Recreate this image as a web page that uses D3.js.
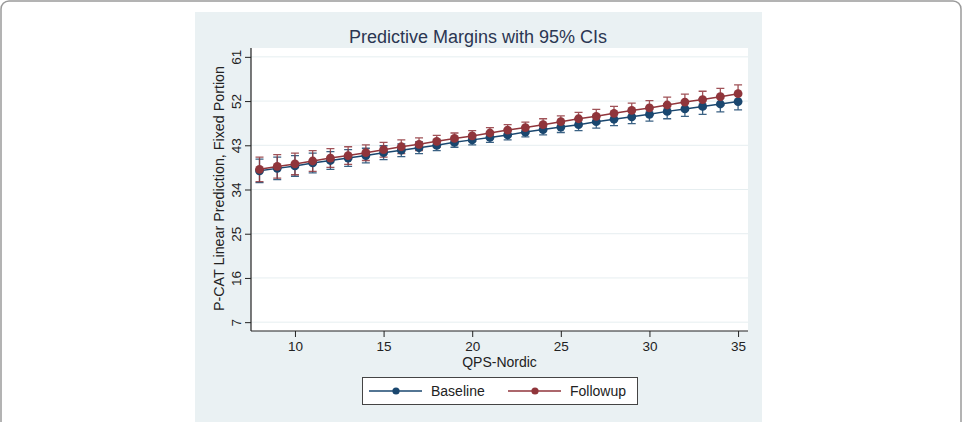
<!DOCTYPE html>
<html>
<head>
<meta charset="utf-8">
<script src="https://cdn.jsdelivr.net/npm/d3@7"></script>
<style>
  html, body { margin: 0; padding: 0; background: #fff; }
  svg { display: block; font-family: "Liberation Sans", Arial, sans-serif; }
</style>
</head>
<body>
<svg id="chart" width="963" height="422"></svg>
<script>
// QPS-Nordic score values
const qps = [8, 9, 10, 11, 12, 13, 14, 15, 16, 17, 18, 19, 20, 21,
             22, 23, 24, 25, 26, 27, 28, 29, 30, 31, 32, 33, 34, 35];

const baseline = [37.8, 38.3, 38.8, 39.4, 39.9, 40.4, 40.9, 41.5, 42.0, 42.5,
                  43.0, 43.6, 44.1, 44.6, 45.1, 45.7, 46.2, 46.7, 47.2, 47.8,
                  48.3, 48.8, 49.3, 49.9, 50.4, 50.9, 51.4, 51.9];
const followup = [38.1, 38.7, 39.2, 39.8, 40.4, 40.9, 41.5, 42.1, 42.7, 43.2,
                  43.8, 44.4, 44.9, 45.5, 46.1, 46.6, 47.2, 47.8, 48.4, 48.9,
                  49.5, 50.1, 50.6, 51.2, 51.8, 52.3, 52.9, 53.5];

// 95% CI half widths
const baselineCI = [2.4, 2.3, 2.1, 2.0, 1.8, 1.7, 1.5, 1.4, 1.3, 1.2,
                    1.1, 1.0, 1.0, 1.0, 1.0, 1.0, 1.1, 1.1, 1.2, 1.3,
                    1.3, 1.4, 1.4, 1.5, 1.5, 1.6, 1.6, 1.7];
const followupCI = [2.5, 2.4, 2.2, 2.1, 1.9, 1.8, 1.6, 1.5, 1.4, 1.3,
                    1.2, 1.1, 1.1, 1.1, 1.1, 1.1, 1.2, 1.2, 1.3, 1.4,
                    1.4, 1.5, 1.5, 1.6, 1.6, 1.7, 1.7, 1.8];

const yTicks = [7, 16, 25, 34, 43, 52, 61];
const xTicks = [10, 15, 20, 25, 30, 35];

const series = [
  {name: 'Baseline', values: baseline, ci: baselineCI, color: '#1a476f'},
  {name: 'Followup', values: followup, ci: followupCI, color: '#90353b'}
];

const svg = d3.select('#chart');

// outer card frame
svg.append('rect')
  .attr('x', 1).attr('y', 1)
  .attr('width', 960).attr('height', 460)
  .attr('rx', 8)
  .attr('fill', '#fff')
  .attr('stroke', '#9a9a9a')
  .attr('stroke-width', 1.5);

// graph region
svg.append('rect')
  .attr('x', 195).attr('y', 12)
  .attr('width', 567).attr('height', 420)
  .attr('fill', '#eaf1f3');

const margin = {left: 251, top: 48, right: 748, bottom: 331};

const x = d3.scaleLinear().domain([7.52, 35.56]).range([margin.left, margin.right]);
const y = d3.scaleLinear().domain([5.2, 62.8]).range([margin.bottom, margin.top]);

// plot region
svg.append('rect')
  .attr('x', margin.left).attr('y', margin.top)
  .attr('width', margin.right - margin.left)
  .attr('height', margin.bottom - margin.top)
  .attr('fill', '#fff');

// gridlines
svg.append('g')
  .selectAll('line')
  .data(yTicks)
  .enter().append('line')
  .attr('x1', margin.left).attr('x2', margin.right)
  .attr('y1', d => y(d)).attr('y2', d => y(d))
  .attr('stroke', '#e6eef0')
  .attr('stroke-width', 1);

// title
svg.append('text')
  .attr('x', 478).attr('y', 43)
  .attr('text-anchor', 'middle')
  .attr('font-size', 18)
  .attr('fill', '#2b3652')
  .text('Predictive Margins with 95% CIs');

// y axis
const yAxis = svg.append('g')
  .attr('transform', `translate(${margin.left},0)`)
  .call(d3.axisLeft(y).tickValues(yTicks).tickSize(6).tickPadding(4));
yAxis.select('.domain').attr('stroke', '#222').attr('stroke-width', 1.2)
  .attr('d', `M0,${margin.top}V${margin.bottom}`);
yAxis.selectAll('.tick line').attr('stroke', '#222');
yAxis.selectAll('.tick text')
  .attr('font-size', 13.5)
  .attr('fill', '#222')
  .attr('text-anchor', 'middle')
  .attr('x', 0).attr('dy', 0)
  .attr('transform', 'translate(-10,0) rotate(-90)');

svg.append('text')
  .attr('transform', `translate(224,${(margin.top + margin.bottom) / 2 - 1}) rotate(-90)`)
  .attr('text-anchor', 'middle')
  .attr('font-size', 14.3)
  .attr('fill', '#222')
  .text('P-CAT Linear Prediction, Fixed Portion');

// x axis
const xAxis = svg.append('g')
  .attr('transform', `translate(0,${margin.bottom})`)
  .call(d3.axisBottom(x).tickValues(xTicks).tickSize(6).tickPadding(4));
xAxis.select('.domain').attr('stroke', '#222').attr('stroke-width', 1.2)
  .attr('d', `M${margin.left},0H${margin.right}`);
xAxis.selectAll('.tick line').attr('stroke', '#222');
xAxis.selectAll('.tick text')
  .attr('font-size', 13.5)
  .attr('fill', '#222');

svg.append('text')
  .attr('x', (margin.left + margin.right) / 2)
  .attr('y', 367)
  .attr('text-anchor', 'middle')
  .attr('font-size', 14)
  .attr('fill', '#222')
  .text('QPS-Nordic');

// confidence intervals
series.forEach(s => {
  const g = svg.append('g')
    .attr('stroke', s.color)
    .attr('stroke-width', 1.3)
    .attr('opacity', 0.85);
  const ci = qps.map((q, i) => ({q, lo: s.values[i] - s.ci[i], hi: s.values[i] + s.ci[i]}));
  g.selectAll('.ci')
    .data(ci)
    .enter().append('path')
    .attr('fill', 'none')
    .attr('d', d => {
      const cx = x(d.q);
      return `M${cx},${y(d.lo)}V${y(d.hi)}` +
        `M${cx - 4},${y(d.lo)}H${cx + 4}` +
        `M${cx - 4},${y(d.hi)}H${cx + 4}`;
    });
});

// lines and markers
const line = d3.line().x(d => x(d.q)).y(d => y(d.v));
series.forEach(s => {
  const pts = qps.map((q, i) => ({q, v: s.values[i]}));
  svg.append('path')
    .datum(pts)
    .attr('fill', 'none')
    .attr('stroke', s.color)
    .attr('stroke-width', 1.5)
    .attr('d', line);
  svg.append('g')
    .selectAll('circle')
    .data(pts)
    .enter().append('circle')
    .attr('cx', d => x(d.q))
    .attr('cy', d => y(d.v))
    .attr('r', 4.4)
    .attr('fill', s.color);
});

// legend
const legend = svg.append('g');
legend.append('rect')
  .attr('x', 362.5).attr('y', 377.5)
  .attr('width', 275).attr('height', 27)
  .attr('fill', '#fff')
  .attr('stroke', '#444')
  .attr('stroke-width', 1);

const legendX = d3.scalePoint().domain(series.map(s => s.name)).range([369, 508]);
series.forEach(s => {
  const lx = legendX(s.name);
  const ly = 391;
  legend.append('line')
    .attr('x1', lx).attr('x2', lx + 53)
    .attr('y1', ly).attr('y2', ly)
    .attr('stroke', s.color).attr('stroke-width', 1.3);
  legend.append('circle')
    .attr('cx', lx + 27).attr('cy', ly).attr('r', 3.6)
    .attr('fill', s.color);
  legend.append('text')
    .attr('x', lx + 62).attr('y', ly + 5)
    .attr('font-size', 14)
    .attr('fill', '#222')
    .text(s.name);
});
</script>
</body>
</html>
